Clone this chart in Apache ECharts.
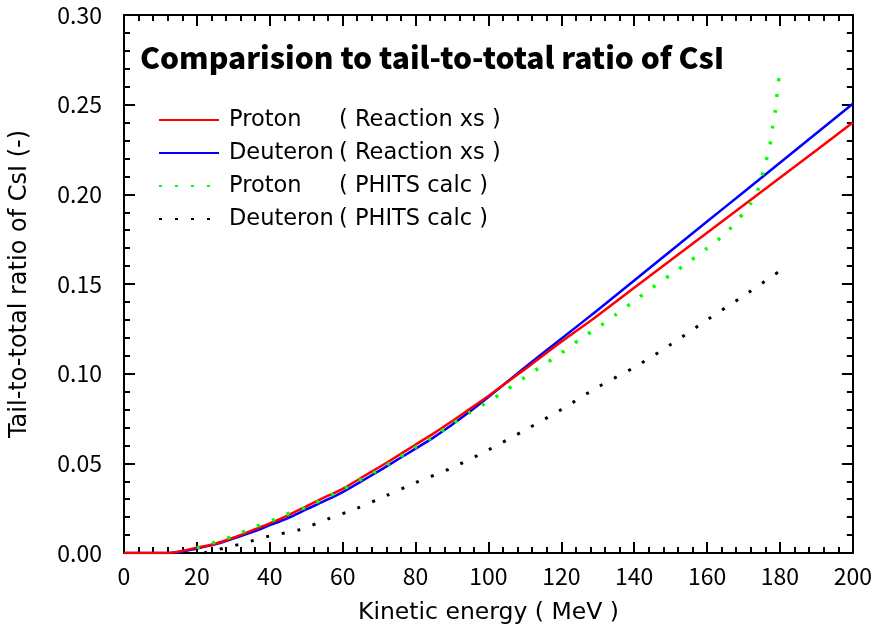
<!DOCTYPE html>
<html>
<head>
<meta charset="utf-8">
<script src="https://cdn.jsdelivr.net/npm/echarts@6/dist/echarts.min.js"></script>
<style>html,body{margin:0;padding:0;background:#fff}#c{width:875px;height:633px}</style>
</head>
<body>
<div id="c"></div>
<script>
// ---- data ----
const xTicks = [0, 20, 40, 60, 80, 100, 120, 140, 160, 180, 200];
const yTicks = [0, 0.05, 0.10, 0.15, 0.20, 0.25, 0.30];

const protonXsE = [0,5,10,12,15,20,25,30,35,40,45,50,55,60,65,70,75,80,85,90,95,100,110,120,130,140,150,160,170,180,190,200];
const protonXsV = [0,0,0,0,0.0008,0.003,0.0052,0.0085,0.0125,0.0165,0.021,0.026,0.031,0.0358,0.0418,0.0478,0.054,0.0604,0.0667,0.0735,0.0805,0.0876,0.1025,0.1178,0.1325,0.1479,0.1632,0.1786,0.1939,0.2093,0.2246,0.240];

const deuteronXsE = [0,5,10,12,15,20,25,30,35,40,45,50,55,60,65,70,75,80,85,90,95,100,110,120,130,140,150,160,170,180,190,200];
const deuteronXsV = [0,0,0,0,0.0005,0.0025,0.0048,0.008,0.0115,0.0155,0.0195,0.0243,0.029,0.034,0.0398,0.0458,0.052,0.0582,0.0645,0.0715,0.079,0.087,0.1035,0.1195,0.1355,0.1519,0.1684,0.1848,0.2012,0.2176,0.2341,0.2505];

const protonCalcE = [20,24,28,32,36,40,44,50,60,70,80,84,90,95,100,105,110,115,120,125,130,135,140,145,150,155,160,165,170,172,173,174.5,175.5,176.5,177.5,178,178.7,179.1,179.6,180];
const protonCalcV = [0.003,0.0054,0.008,0.0112,0.0146,0.0175,0.0211,0.0255,0.0355,0.0465,0.059,0.0638,0.072,0.0785,0.0845,0.091,0.098,0.1047,0.1115,0.119,0.1257,0.133,0.1405,0.148,0.1552,0.1623,0.170,0.178,0.1895,0.195,0.198,0.2055,0.2135,0.221,0.230,0.238,0.246,0.254,0.2625,0.271];

const deuteronCalcE = [22,24,28,32,36,40,48,56,64,72,80,90,100,110,120,130,140,150,160,170,180];
const deuteronCalcV = [0,0.001,0.003,0.005,0.0073,0.0095,0.0129,0.019,0.025,0.032,0.0392,0.0475,0.0575,0.0685,0.080,0.0925,0.1035,0.1162,0.130,0.1434,0.1573];

const seriesNames = ['Proton ( Reaction xs )','Deuteron ( Reaction xs )','Proton ( PHITS calc )','Deuteron ( PHITS calc )'];

const pairs = (xs, ys) => xs.map((x, i) => [x, ys[i]]);
const FONT = '"Noto Sans CJK JP", "Noto Sans", sans-serif';
const WIDE = '"DejaVu Sans", sans-serif';

const chart = echarts.init(document.getElementById('c'), null, {renderer: 'canvas'});

const tickCommon = {
  axisLine: {show: true, onZero: false, lineStyle: {color: '#000', width: 2}},
  axisTick: {show: true, inside: true, length: 11, lineStyle: {color: '#000', width: 2}},
  minorTick: {show: true, splitNumber: 5, length: 6, lineStyle: {color: '#000', width: 2}},
  splitLine: {show: false},
  minorSplitLine: {show: false}
};

const option = {
  backgroundColor: '#fff',
  animation: false,
  title: {
    text: 'Comparision to tail-to-total ratio of CsI',
    left: 135, top: 38,
    textStyle: {fontFamily: FONT, fontSize: 30, fontWeight: 900, color: '#000'}
  },
  legend: {
    orient: 'vertical',
    left: 153, top: 103,
    itemWidth: 60, itemHeight: 14, itemGap: 9,
    itemStyle: {opacity: 0},
    data: seriesNames,
    formatter: name => {
      const i = name.indexOf(' (');
      return '{a|' + name.slice(0, i) + '}{b|' + name.slice(i + 1) + '}';
    },
    textStyle: {
      fontFamily: WIDE, fontSize: 22.5, color: '#000', lineHeight: 24,
      rich: {
        a: {fontFamily: WIDE, fontSize: 22.5, color: '#000', width: 110, padding: [0, 0, 0, 5], lineHeight: 24},
        b: {fontFamily: WIDE, fontSize: 22.5, color: '#000', lineHeight: 24}
      }
    }
  },
  grid: {left: 123, right: 21, top: 15, bottom: 80, containLabel: false},
  xAxis: [
    Object.assign({
      type: 'value', min: xTicks[0], max: xTicks[xTicks.length - 1], interval: 20, position: 'bottom',
      name: 'Kinetic energy ( MeV )', nameLocation: 'middle', nameGap: 48,
      nameTextStyle: {fontFamily: WIDE, fontSize: 23.5, color: '#000'},
      axisLabel: {fontFamily: FONT, fontSize: 23, color: '#000', margin: 12}
    }, tickCommon),
    Object.assign({
      type: 'value', min: xTicks[0], max: xTicks[xTicks.length - 1], interval: 20, position: 'top',
      axisLabel: {show: false}
    }, tickCommon)
  ],
  yAxis: [
    Object.assign({
      type: 'value', min: yTicks[0], max: yTicks[yTicks.length - 1], interval: 0.05, position: 'left',
      name: 'Tail-to-total ratio of CsI (-)', nameLocation: 'middle', nameGap: 92,
      nameTextStyle: {fontFamily: WIDE, fontSize: 24, color: '#000'},
      axisLabel: {fontFamily: FONT, fontSize: 23, color: '#000', margin: 22, formatter: v => v.toFixed(2)}
    }, tickCommon),
    Object.assign({
      type: 'value', min: yTicks[0], max: yTicks[yTicks.length - 1], interval: 0.05, position: 'right',
      axisLabel: {show: false}
    }, tickCommon)
  ],
  series: [
    {name: seriesNames[0], type: 'line', data: pairs(protonXsE, protonXsV), showSymbol: false, symbol: 'none', smooth: 0.3, z: 4,
     lineStyle: {color: '#ff0000', width: 2.5}, itemStyle: {color: '#ff0000'}},
    {name: seriesNames[1], type: 'line', data: pairs(deuteronXsE, deuteronXsV), showSymbol: false, symbol: 'none', smooth: 0.3, z: 3,
     lineStyle: {color: '#0000ff', width: 2.5}, itemStyle: {color: '#0000ff'}},
    {name: seriesNames[2], type: 'line', data: pairs(protonCalcE, protonCalcV), showSymbol: false, symbol: 'none', smooth: 0.2, z: 5,
     lineStyle: {color: '#00ff00', width: 3.5, type: [3, 13]}, itemStyle: {color: '#00ff00'}},
    {name: seriesNames[3], type: 'line', data: pairs(deuteronCalcE, deuteronCalcV), showSymbol: false, symbol: 'none', smooth: 0.3, z: 5,
     lineStyle: {color: '#000000', width: 3, type: [3, 13]}, itemStyle: {color: '#000000'}}
  ]
};
chart.setOption(option);
</script>
</body>
</html>
